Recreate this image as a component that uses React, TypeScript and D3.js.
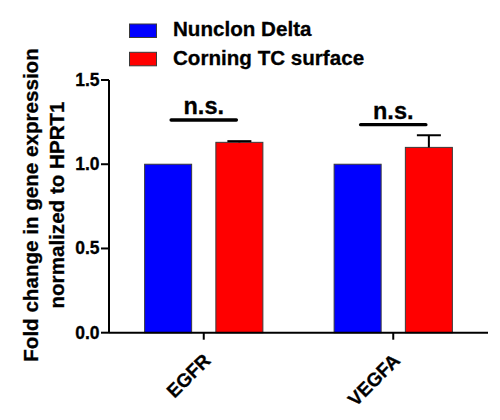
import React, { useEffect, useRef } from 'react';
import * as d3 from 'd3';

const categories = ['EGFR', 'VEGFA'];
const seriesNames = ['Nunclon Delta', 'Corning TC surface'];
const seriesColors = ['#0000ff', '#ff0000'];
const nunclonValues = [1.0, 1.0];
const corningValues = [1.13, 1.1];
const corningErrors = [0.007, 0.072];
const sigLevels = [1.263, 1.235];
const sigLabels = ['n.s.', 'n.s.'];
const yTicks = [0, 0.5, 1.0, 1.5];

const FONT = "'Liberation Sans', Arial, sans-serif";

const App = () => {
  const svgRef = useRef(null);

  useEffect(() => {
    document.body.style.margin = '0';
    const svg = d3.select(svgRef.current);
    const width = 500;
    const height = 420;
    const margin = { top: 80, right: 12, bottom: 87.3, left: 109 };

    const x0 = d3
      .scaleBand()
      .domain(categories)
      .range([margin.left, width - margin.right])
      .padding(0);

    const x1 = d3
      .scaleBand()
      .domain(seriesNames)
      .range([0, x0.bandwidth()])
      .paddingInner(0.34)
      .paddingOuter(0.5);

    const y = d3
      .scaleLinear()
      .domain([0, 1.5])
      .range([height - margin.bottom, margin.top]);

    const series = [nunclonValues, corningValues];
    const errors = [null, corningErrors];

    // bars
    series.forEach((vals, si) => {
      svg
        .append('g')
        .selectAll('rect')
        .data(vals)
        .enter()
        .append('rect')
        .attr('x', (d, i) => x0(categories[i]) + x1(seriesNames[si]))
        .attr('y', (d) => y(d))
        .attr('width', x1.bandwidth())
        .attr('height', (d) => y(0) - y(d))
        .attr('fill', seriesColors[si])
        .attr('stroke', '#3a3a3a')
        .attr('stroke-width', 1);
    });

    // error bars (upper only)
    errors.forEach((errs, si) => {
      if (!errs) return;
      const g = svg.append('g').attr('stroke', '#000').attr('stroke-width', 2);
      errs.forEach((e, i) => {
        const cx = x0(categories[i]) + x1(seriesNames[si]) + x1.bandwidth() / 2;
        const v = series[si][i];
        g.append('line')
          .attr('x1', cx)
          .attr('x2', cx)
          .attr('y1', y(v))
          .attr('y2', y(v + e));
        g.append('line')
          .attr('x1', cx - 12)
          .attr('x2', cx + 12)
          .attr('y1', y(v + e))
          .attr('y2', y(v + e));
      });
    });

    // y axis
    svg
      .append('line')
      .attr('x1', margin.left)
      .attr('x2', margin.left)
      .attr('y1', y(1.5))
      .attr('y2', y(0))
      .attr('stroke', '#000')
      .attr('stroke-width', 2);

    const yt = svg.append('g');
    yTicks.forEach((t) => {
      yt.append('line')
        .attr('x1', margin.left - 8)
        .attr('x2', margin.left)
        .attr('y1', y(t))
        .attr('y2', y(t))
        .attr('stroke', '#000')
        .attr('stroke-width', 2);
      yt.append('text')
        .attr('x', margin.left - 9.5)
        .attr('y', y(t) + 6)
        .attr('text-anchor', 'end')
        .attr('font-family', FONT)
        .attr('font-weight', 'bold')
        .attr('font-size', 17.5)
        .attr('stroke', '#000')
        .attr('stroke-width', 0.3)
        .text(d3.format('.1f')(t));
    });

    // x axis
    svg
      .append('line')
      .attr('x1', margin.left)
      .attr('x2', width - margin.right)
      .attr('y1', y(0))
      .attr('y2', y(0))
      .attr('stroke', '#000')
      .attr('stroke-width', 2);

    categories.forEach((c) => {
      const cx = x0(c) + x0.bandwidth() / 2;
      svg
        .append('line')
        .attr('x1', cx)
        .attr('x2', cx)
        .attr('y1', y(0))
        .attr('y2', y(0) + 7)
        .attr('stroke', '#000')
        .attr('stroke-width', 2);
      svg
        .append('text')
        .attr('transform', `translate(${cx + 8},${y(0) + 29}) rotate(-45)`)
        .attr('text-anchor', 'end')
        .attr('font-family', FONT)
        .attr('font-weight', 'bold')
        .attr('font-size', 19)
        .attr('stroke', '#000')
        .attr('stroke-width', 0.3)
        .text(c);
    });

    // significance brackets
    categories.forEach((c, i) => {
      const cx = x0(c) + x0.bandwidth() / 2;
      const a = x0(c) + x1(seriesNames[0]) + x1.bandwidth() / 2;
      const b = x0(c) + x1(seriesNames[1]) + x1.bandwidth() / 2;
      svg
        .append('line')
        .attr('x1', a + 3)
        .attr('x2', b - 3)
        .attr('y1', y(sigLevels[i]))
        .attr('y2', y(sigLevels[i]))
        .attr('stroke', '#000')
        .attr('stroke-width', 3.4)
        .attr('stroke-linecap', 'round');
      svg
        .append('text')
        .attr('x', cx)
        .attr('y', y(sigLevels[i]) - 5.5)
        .attr('text-anchor', 'middle')
        .attr('font-family', FONT)
        .attr('font-weight', 'bold')
        .attr('font-size', 23.5)
        .attr('stroke', '#000')
        .attr('stroke-width', 0.3)
        .text(sigLabels[i]);
    });

    // y label
    const ylab = ['Fold change in gene expression', 'normalized to HPRT1'];
    ylab.forEach((line, i) => {
      svg
        .append('text')
        .attr('transform', `translate(${38.3 + i * 25.2},205) rotate(-90)`)
        .attr('text-anchor', 'middle')
        .attr('font-family', FONT)
        .attr('font-weight', 'bold')
        .attr('font-size', 20.6)
        .attr('stroke', '#000')
        .attr('stroke-width', 0.3)
        .text(line);
    });

    // legend
    const legend = svg.append('g');
    seriesNames.forEach((s, i) => {
      const top = 24 + i * 28.3;
      legend
        .append('rect')
        .attr('x', 129.5)
        .attr('y', top)
        .attr('width', 27)
        .attr('height', 13.5)
        .attr('fill', seriesColors[i])
        .attr('stroke', '#3a3a3a')
        .attr('stroke-width', 1);
      legend
        .append('text')
        .attr('x', 173)
        .attr('y', top + 12.4)
        .attr('font-family', FONT)
        .attr('font-weight', 'bold')
        .attr('font-size', 20.6)
        .attr('stroke', '#000')
        .attr('stroke-width', 0.3)
        .text(s);
    });

    return () => {
      svg.selectAll('*').remove();
    };
  }, []);

  return (
    <div>
      <svg ref={svgRef} width={500} height={420} style={{ display: 'block', background: '#fff' }}></svg>
    </div>
  );
};

export default App;
